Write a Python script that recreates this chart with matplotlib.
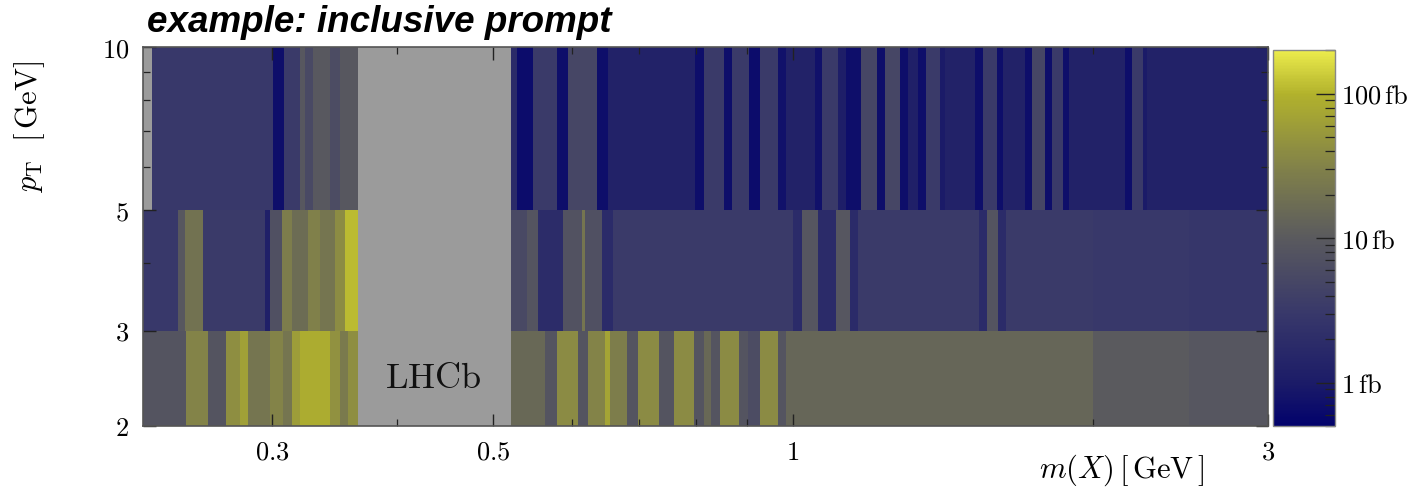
import numpy as np
import matplotlib
matplotlib.use("Agg")
import matplotlib.pyplot as plt
from matplotlib.colors import LinearSegmentedColormap, LogNorm
from matplotlib.ticker import FixedLocator, NullFormatter, LogLocator, FuncFormatter

plt.rcParams['mathtext.fontset'] = 'cm'

nan = np.nan

# pT rows [GeV]
pt_edges = [2, 3, 5, 10]

# row 5-10 GeV
m_hi = [0.2224, 0.2271, 0.3004, 0.3082, 0.3197, 0.3235, 0.3295, 0.3427, 0.3508, 0.3657,
        0.5207, 0.5280, 0.5479, 0.5794, 0.5943, 0.6354, 0.6518, 0.7973, 0.8140, 0.8525,
        0.8685, 0.9032, 0.9266, 0.9659, 0.9839, 1.0522, 1.0693, 1.1096, 1.1303, 1.1703,
        1.2144, 1.2369, 1.2808, 1.3047, 1.3353, 1.3601, 1.4047, 1.4211, 1.5234, 1.5518,
        1.6030, 1.6253, 1.7100, 1.7382, 1.7911, 1.8203, 1.8668, 1.8930, 2.1555, 2.1906,
        2.2469, 2.2679, 3.0]
xs_hi = [nan, 3.0, 0.7, 3.3, 9.0, 5.5, 9.5, 6.0, 9.0,
         nan, 1.8, 0.65, 3.3, 0.7, 5.0, 0.7, 1.3, 0.7, 3.3,
         0.7, 3.3, 0.65, 3.3, 0.75, 1.3, 0.75, 3.3, 1.1, 0.7,
         5.0, 0.7, 5.0, 0.7, 1.2, 0.7, 3.3, 1.0, 1.3, 0.7,
         3.3, 0.7, 1.3, 0.7, 5.0, 0.7, 3.3, 0.7, 1.3, 0.7,
         3.3, 1.0, 1.3]

# row 3-5 GeV
m_mid = [0.2224, 0.2411, 0.2450, 0.2555, 0.2949, 0.2983, 0.3067, 0.3139, 0.3258, 0.3349,
         0.3467, 0.3548, 0.3657, 0.5207, 0.5403, 0.5543, 0.5875, 0.6138, 0.6181, 0.6428,
         0.6594, 1.0, 1.0210, 1.0595, 1.1045, 1.1411, 1.1623, 1.5375, 1.5663, 1.6067,
         1.6366, 2.0, 2.5, 3.0]
xs_mid = [3.0, 9.0, 20, 3.2, 1.2, 7.0, 27, 17, 30,
          22, 40, 110, nan, 5.5, 8.0, 1.9, 7.5, 22, 7.0,
          1.8, 3.3, 1.8, 8.5, 1.8, 8.5, 1.8, 3.3, 1.8, 8.0,
          1.8, 3.3, 3.0, 2.8]

# row 2-3 GeV
m_lo = [0.2224, 0.2456, 0.2585, 0.2695, 0.2783, 0.2835, 0.2983, 0.3074, 0.3139, 0.3197,
        0.3427, 0.3508, 0.3573, 0.3657, 0.5207, 0.5633, 0.5794, 0.6082, 0.6224, 0.6473,
        0.6548, 0.6812, 0.6988, 0.7334, 0.7593, 0.7955, 0.8140, 0.8273, 0.8446, 0.8825,
        0.9011, 0.9266, 0.9659, 0.9839, 2.0, 2.5, 3.0]
xs_lo = [8.0, 32, 8.0, 42, 65, 22, 32, 22, 60,
         85, 45, 25, 42, nan, 15, 8.0, 38, 8.0, 32,
         70, 28, 8.0, 38, 8.0, 38, 8.0, 15, 8.0, 38,
         8.0, 6.0, 38, 8.0, 14, 10, 8.5]

rows = [(m_lo, xs_lo), (m_mid, xs_mid), (m_hi, xs_hi)]

x_ticks = [0.3, 0.5, 1, 3]
x_minor = [0.4, 0.6, 0.7, 0.8, 0.9, 2]
y_ticks = [2, 3, 5, 10]
y_minor = [4, 6, 7, 8, 9]
cb_ticks = [1, 10, 100]

cmap = LinearSegmentedColormap.from_list("navy_yellow", [
    (0.0, "#02026c"), (0.116, "#1c1c68"), (0.299, "#38386a"),
    (0.5, "#5a5a5e"), (0.683, "#80804a"), (0.885, "#b2b22c"), (1.0, "#ecec4c")])
cmap.set_bad("#9b9b9b")
norm = LogNorm(vmin=0.5, vmax=200)

fig = plt.figure(figsize=(14.14, 4.96), dpi=100)
ax = fig.add_axes([0.1011, 0.1411, 0.7956, 0.7641])

for i, (edges, vals) in enumerate(rows):
    z = np.ma.masked_invalid(np.array(vals, dtype=float))[np.newaxis, :]
    mesh = ax.pcolormesh(edges, pt_edges[i:i + 2], z, cmap=cmap, norm=norm,
                         shading='flat', linewidth=0, rasterized=True)

ax.set_xscale('log')
ax.set_yscale('log')
ax.set_xlim(0.2224, 3.0)
ax.set_ylim(2, 10)

ax.xaxis.set_major_locator(FixedLocator(x_ticks))
ax.xaxis.set_minor_locator(FixedLocator(x_minor))
ax.yaxis.set_major_locator(FixedLocator(y_ticks))
ax.yaxis.set_minor_locator(FixedLocator(y_minor))
ax.xaxis.set_major_formatter(FuncFormatter(lambda v, p: r'$%g$' % v))
ax.yaxis.set_major_formatter(FuncFormatter(lambda v, p: r'$%g$' % v))
ax.xaxis.set_minor_formatter(NullFormatter())
ax.yaxis.set_minor_formatter(NullFormatter())
ax.tick_params(which='both', direction='in', top=True, right=True,
               labelsize=19, color='#222222')
ax.tick_params(which='major', length=9, width=1.0, pad=10)
ax.tick_params(which='minor', length=5, width=0.9)
for s in ax.spines.values():
    s.set_color('#555555')
    s.set_linewidth(1.2)

ax.text(0.435, 2.45, r'$\mathrm{LHCb}$', fontsize=26, ha='center', va='center',
        color='#111111')

ax.set_xlabel(r'$m(X)\,[\,\mathrm{GeV}\,]$', fontsize=22)
ax.xaxis.set_label_coords(0.87, -0.07)
ax.set_ylabel(r'$p_\mathrm{T}\ \ [\,\mathrm{GeV}]$', fontsize=22)
ax.yaxis.set_label_coords(-0.085, 0.79)

fig.text(0.104, 0.955, 'example: inclusive prompt', fontsize=26.5,
         fontweight='bold', fontstyle='italic', family='Liberation Sans',
         ha='left', va='center')

cax = fig.add_axes([0.9003, 0.1411, 0.0438, 0.758])
cb = fig.colorbar(mesh, cax=cax)
cb.outline.set_edgecolor('#888888')
cb.outline.set_linewidth(1.0)
cax.yaxis.set_major_locator(FixedLocator(cb_ticks))
cax.yaxis.set_minor_locator(LogLocator(base=10, subs=np.arange(2, 10)))
cax.yaxis.set_major_formatter(FuncFormatter(lambda v, p: r'$%g\,\mathrm{fb}$' % v))
cax.yaxis.set_minor_formatter(NullFormatter())
cax.tick_params(which='both', direction='in', labelsize=19, color='#222222')
cax.tick_params(which='major', length=14, width=1.0, pad=4)
cax.tick_params(which='minor', length=7, width=0.9)

fig.savefig('out.png', dpi=100)
